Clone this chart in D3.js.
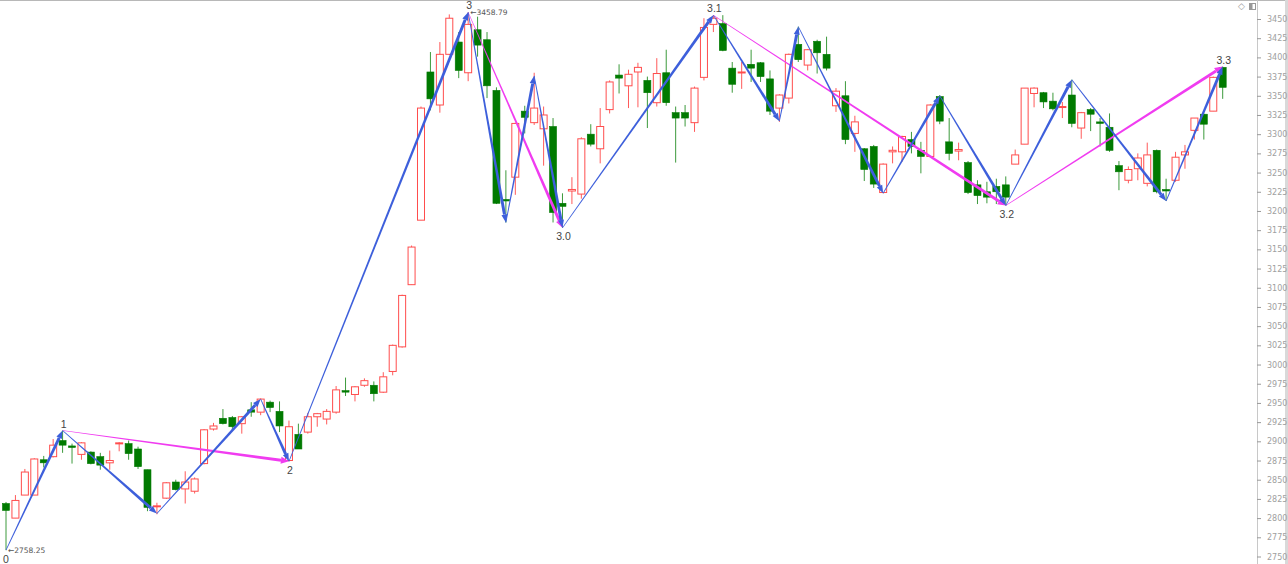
<!DOCTYPE html>
<html><head><meta charset="utf-8">
<script src="https://cdn.jsdelivr.net/npm/d3@7"></script>
<style>
html,body{margin:0;padding:0;background:#fff;}
svg{display:block;font-family:"Liberation Sans",Arial,sans-serif;}
</style></head>
<body><svg id="c" width="1288" height="564"></svg>
<script>
const openV = [2819,2800,2830,2830,2876,2880,2901,2894,2883,2886,2880,2872,2897,2897,2890,2863,2815,2826,2847,2838,2835,2871,2916,2930,2931,2923,2941,2938,2951,2939,2875,2909,2912,2932,2929,2938,2966,2961,2973,2973,2964,2991,3023,3104,3188,3381,3338,3404,3420,3380,3436,3423,3357,3215,3244,3330,3315,3307,3310,3210,3226,3222,3300,3281,3332,3377,3363,3381,3370,3341,3380,3328,3328,3315,3374,3443,3444,3386,3380,3391,3393,3372,3334,3347,3417,3390,3421,3404,3337,3350,3301,3281,3284,3224,3277,3277,3293,3279,3271,3349,3290,3278,3263,3234,3225,3232,3234,3261,3287,3353,3354,3343,3335,3351,3308,3332,3316,3309,3259,3240,3255,3236,3279,3228,3240,3273,3305,3326,3330,3387];
const highV = [2821,2830,2864,2878,2881,2903,2914,2897,2899,2887,2885,2888,2899,2901,2893,2863,2820,2847,2850,2861,2853,2916,2924,2942,2933,2933,2951,2956,2953,2952,2927,2923,2937,2937,2942,2972,2983,2972,2982,2978,2990,3026,3091,3155,3336,3407,3420,3456,3433,3458.79,3453,3433,3361,3253,3315,3337,3380,3336,3321,3223,3244,3296,3313,3334,3370,3391,3384,3393,3375,3399,3410,3336,3338,3362,3451,3455,3455,3394,3394,3410,3394,3383,3352,3405,3440,3411,3423,3427,3360,3369,3324,3282,3286,3262,3284,3298,3303,3290,3339,3351,3321,3289,3265,3240,3238,3242,3245,3280,3360,3361,3355,3354,3342,3371,3329,3334,3321,3327,3265,3258,3275,3289,3280,3242,3277,3286,3321,3327,3375,3388];
const lowV = [2758.25,2800,2830,2830,2866,2879,2885,2871,2876,2870,2863,2863,2887,2876,2864,2809,2805,2825,2836,2819,2832,2870,2914,2922,2915,2910,2932,2934,2938,2912,2874,2890,2910,2919,2922,2936,2959,2952,2971,2952,2963,2986,3022,3104,3188,3331,3328,3403,3373,3369,3401,3347,3209,3185,3221,3301,3312,3259,3185,3178,3209,3216,3284,3262,3327,3353,3334,3335,3308,3336,3337,3263,3310,3303,3370,3433,3408,3354,3359,3368,3368,3325,3316,3340,3394,3383,3379,3383,3329,3287,3277,3239,3230,3223,3262,3264,3275,3249,3270,3313,3266,3266,3222,3209,3210,3209,3207,3261,3287,3335,3334,3331,3321,3309,3294,3304,3284,3277,3227,3236,3240,3232,3223,3213,3238,3255,3293,3293,3330,3346];
const closeV = [2810,2823,2860,2877,2872,2895,2895,2892,2898,2871,2869,2875,2898,2884,2867,2814,2816,2846,2837,2847,2851,2915,2920,2923,2919,2932,2938,2955,2944,2920,2919,2890,2932,2936,2939,2967,2965,2971,2979,2962,2984,3025,3090,3153,3334,3346,3404,3451,3383,3443,3416,3363,3210,3213,3314,3322,3334,3325,3198,3206,3228,3294,3287,3310,3368,3373,3378,3387,3354,3379,3341,3321,3321,3360,3439,3451,3409,3365,3381,3386,3375,3330,3351,3404,3397,3410,3406,3386,3356,3293,3316,3254,3235,3261,3279,3297,3284,3271,3338,3317,3275,3280,3224,3220,3218,3225,3218,3273,3360,3360,3342,3333,3336,3314,3328,3326,3314,3279,3251,3254,3269,3273,3225,3226,3270,3277,3321,3313,3374,3361];

// wave pivots (candle index, price)
const blueIdx = [0,6,16,27,30,49,53,56,59,75,82,84,93,99,106,113,123,129];
const bluePrice = [2758.25,2914,2806,2955,2874,3458.79,3185,3376,3178,3455,3317,3440,3223,3350,3207,3371,3213,3388];
const pinkIdx = [6,30,49,59,75,106,129];
const pinkPrice = [2914,2874,3458.79,3178,3455,3207,3388];
const pinkSegs = [[0,1],[2,3],[4,5],[5,6]];

const labelText = ["0","1","2","3","3.0","3.1","3.2","3.3"];
const labelIdx = [0,6,30,49,59,75,106,129];
const labelPrice = [2758.25,2914,2874,3458.79,3178,3455,3207,3388];
const labelPos = ["below","above","below","above","below","above","below","above"];

const priceNoteText = ["2758.25","3458.79"];
const priceNoteIdx = [0,49];
const priceNoteValue = [2758.25,3458.79];

const tickValues = d3.range(2750, 3451, 25);

const W = 1288, H = 564;
const svg = d3.select("#c");
const x = d3.scaleLinear().domain([0, 129]).range([6, 1222.7]);
const y = d3.scaleLinear().domain([2750, 3450]).range([556.5, 19]);

// frame
svg.append("rect").attr("x",0).attr("y",0).attr("width",W).attr("height",1).attr("fill","#b8b8b8");
svg.append("rect").attr("x",1285).attr("y",0).attr("width",3).attr("height",H).attr("fill","#d9d9d9");

// axis
const axis = d3.axisRight(y).tickValues(tickValues).tickSize(4).tickPadding(6).tickFormat(d3.format("d"));
const ag = svg.append("g").attr("transform","translate(1257,0)").call(axis);
ag.select(".domain").attr("stroke","#c8c8c8").attr("d","M0.5,0V564");
ag.selectAll(".tick line").attr("stroke","#999");
ag.selectAll(".tick text").attr("fill","#a0a0a0").attr("font-size","8px").attr("font-family","'DejaVu Sans',sans-serif");

// top-right icons
svg.append("text").attr("x",1238).attr("y",9).attr("font-size","9px").attr("fill","#999").text("◇");
svg.append("rect").attr("x",1249.5).attr("y",3.5).attr("width",6).attr("height",6).attr("fill","none").attr("stroke","#999");
svg.append("rect").attr("x",1250).attr("y",4).attr("width",2.5).attr("height",5).attr("fill","#999");

// candles
const data = openV.map((o,i)=>({i, o, h:highV[i], l:lowV[i], c:closeV[i]}));
const bw = 7;
const cg = svg.append("g");
data.forEach(d=>{
  const up = d.c >= d.o;
  const col = up ? "#ff4d4d" : "#0a7d0a";
  const wickCol = up ? "#ff5a5a" : "#3c9a3c";
  const cx = x(d.i);
  const top = y(Math.max(d.o,d.c)), bot = y(Math.min(d.o,d.c));
  cg.append("line").attr("x1",cx).attr("x2",cx).attr("y1",y(d.h)).attr("y2",y(d.l))
    .attr("stroke",wickCol).attr("stroke-width",1);
  if (up) {
    cg.append("rect").attr("x",cx-bw/2).attr("y",top).attr("width",bw).attr("height",Math.max(bot-top,1))
      .attr("fill","#fff").attr("stroke",col).attr("stroke-width",1);
  } else {
    cg.append("rect").attr("x",cx-bw/2).attr("y",top).attr("width",bw).attr("height",Math.max(bot-top,1.5))
      .attr("fill","#007a00").attr("stroke","#007a00").attr("stroke-width",0.6);
  }
});

// tapered arrows
function taper(g, x0,y0,x1,y1,w0,w1,color,head){
  const dx=x1-x0, dy=y1-y0, L=Math.hypot(dx,dy);
  const ux=dx/L, uy=dy/L, nx=-uy, ny=ux;
  const hl=head[0], hw=head[1];
  const bx=x1-ux*hl, by=y1-uy*hl;
  const pts=[[x0+nx*w0/2,y0+ny*w0/2],[bx+nx*w1/2,by+ny*w1/2],[bx-nx*w1/2,by-ny*w1/2],[x0-nx*w0/2,y0-ny*w0/2]];
  g.append("path").attr("d",d3.line()(pts)+"Z").attr("fill",color);
  const hp=[[x1,y1],[bx+nx*hw/2,by+ny*hw/2],[bx-nx*hw/2,by-ny*hw/2]];
  g.append("path").attr("d",d3.line()(hp)+"Z").attr("fill",color);
}
const wg = svg.append("g");
for (let k=0;k<pinkSegs.length;k++){
  const [a,b]=pinkSegs[k];
  taper(wg, x(pinkIdx[a]),y(pinkPrice[a]),x(pinkIdx[b]),y(pinkPrice[b]),0.6,3,"#f03cf0",[8,7]);
}
for (let k=0;k<blueIdx.length-1;k++){
  taper(wg, x(blueIdx[k]),y(bluePrice[k]),x(blueIdx[k+1]),y(bluePrice[k+1]),0.8,3,"#3d5fdb",[8,6]);
}

// wave labels
const lg = svg.append("g");
labelText.forEach((t,k)=>{
  const px=x(labelIdx[k]), py=y(labelPrice[k]);
  lg.append("text").attr("x",k===0? px : px+1).attr("y",labelPos[k]==="above"? py-3 : py+12.5)
    .attr("text-anchor","middle").attr("font-size","10.5px").attr("fill","#444").text(t);
});
// price notes
priceNoteText.forEach((t,k)=>{
  const px=x(priceNoteIdx[k]), py=y(priceNoteValue[k]);
  lg.append("text").attr("x",px+2).attr("y",py+3).attr("font-size","7.5px").attr("fill","#555")
    .attr("font-family","'DejaVu Sans',sans-serif").text("←"+t);
});
</script></body></html>
